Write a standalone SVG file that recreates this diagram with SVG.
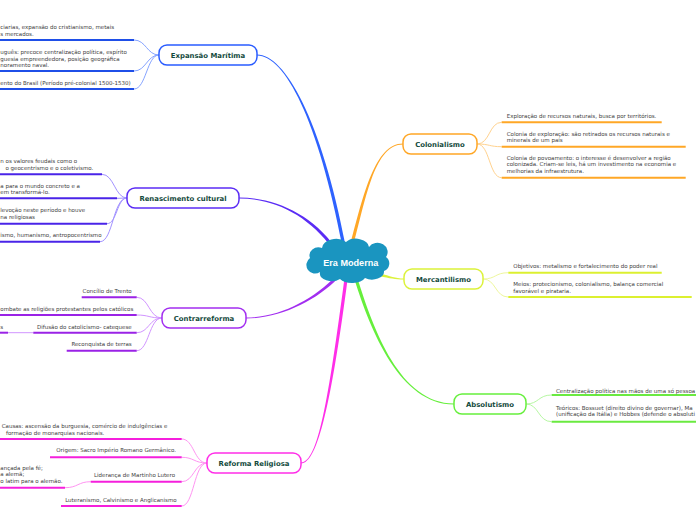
<svg xmlns="http://www.w3.org/2000/svg" width="696" height="520" viewBox="0 0 696 520">
<style>
.t{font-family:"DejaVu Sans",Verdana,sans-serif;font-size:5.5px;fill:#3d3d3d}
.e{text-anchor:end}
.lbl{font-family:"DejaVu Sans",Verdana,sans-serif;font-size:6.9px;font-weight:bold;fill:#134a3c;text-anchor:middle}
.node{fill:#fff;stroke-width:1.5}
.ul{fill:none;stroke-width:2}
.br{fill:none;stroke-width:1}
</style>
<rect width="696" height="520" fill="#fff"/>
<g id="connectors">
<path d="M345.6,245.7 C321.6,119.7 285,54.5 257,54.5 L257,55.5 C285,55.5 318.4,120.3 342.4,246.3 Z" fill="#2e62ff"/>
<path d="M335.3,247.1 C311.3,214.1 275,197.5 239,197.5 L239,198.5 C275,198.5 308.7,215.9 332.7,248.9 Z" fill="#5a2cf5"/>
<path d="M335.85,275.9 C313.85,298.9 280,317.5 246,317.5 L246,318.5 C280,318.5 316.15,301.1 338.15,278.1 Z" fill="#a22ef0"/>
<path d="M344.4,278.8 C328.4,399.8 318,462.5 301,462.5 L301,463.5 C318,463.5 331.6,400.2 347.6,279.2 Z" fill="#ff2ee8"/>
<path d="M353.55,244.41 C366.55,195.41 375,144.5 403,144.5 L403,143.5 C375,143.5 363.45,194.59 350.45,243.59 Z" fill="#ffa726"/>
<path d="M379.75,276.27 C389.75,278.27 395,279.5 404,279.5 L404,278.5 C395,278.5 390.25,275.73 380.25,273.73 Z" fill="#dcf23a"/>
<path d="M354.48,279.48 C370.48,330.48 400,404.5 454,404.5 L454,403.5 C400,403.5 373.52,329.52 357.52,278.52 Z" fill="#66ef3c"/>
<g stroke="#86a4ff" class="br">
<path d="M159,55 C147,55 146,40 134,40"/><path d="M159,55 C147,55 146,71 134,71"/><path d="M159,55 C147,55 146,89 134,89"/>
</g>
<g stroke="#1f4fe8" class="ul">
<path d="M0,40 H134"/><path d="M0,71 H134"/><path d="M0,89 H134"/>
</g>
<g stroke="#a292ff" class="br">
<path d="M127,198 C115,198 114,174.3 102,174.3"/><path d="M127,198 C122,198 122,198.3 117,198.3"/><path d="M127,198 C117,198 117,223.7 107,223.7"/><path d="M127,198 C113,198 113,241.7 100,241.7"/>
</g>
<g stroke="#4a24e8" class="ul">
<path d="M0,174.3 H102"/><path d="M0,198.3 H117"/><path d="M0,223.7 H107"/><path d="M0,241.7 H100"/>
</g>
<g stroke="#d194ff" class="br">
<path d="M162,318 C149,318 149,297.3 136.7,297.3"/><path d="M162,318 C149,318 149,315 136.7,315"/><path d="M162,318 C149,318 149,332.7 136.7,332.7"/><path d="M162,318 C149,318 149,350.7 136.7,350.7"/><path d="M33.3,332.7 H8"/>
</g>
<g stroke="#9a22e6" class="ul">
<path d="M81.7,297.3 H136.7"/><path d="M0,315 H136.7"/><path d="M33.3,332.7 H136.7"/><path d="M66.7,350.7 H136.7"/><path d="M0,332.7 H8"/>
</g>
<g stroke="#ff94f2" class="br">
<path d="M207,463 C194,463 194,439 181.7,439"/><path d="M207,463 C194,463 194,457.3 181.7,457.3"/><path d="M207,463 C194,463 194,481.7 181.7,481.7"/><path d="M207,463 C194,463 194,506 181.7,506"/><path d="M90.7,481.7 C78,481.7 78,487.7 65,487.7"/>
</g>
<g stroke="#f51fdc" class="ul">
<path d="M0,439 H181.7"/><path d="M50,457.3 H181.7"/><path d="M90.7,481.7 H181.7"/><path d="M61,506 H181.7"/><path d="M0,487.7 H65"/>
</g>
<g stroke="#ffd28e" class="br">
<path d="M477,144 C490,144 489,122.3 501.7,122.3"/><path d="M477,144 C490,144 489,146.7 501.7,146.7"/><path d="M477,144 C490,144 489,177.7 501.7,177.7"/>
</g>
<g stroke="#ffa726" class="ul">
<path d="M501.7,122.3 H661.7"/><path d="M501.7,146.7 H685.7"/><path d="M501.7,177.7 H685.7"/>
</g>
<g stroke="#eef79c" class="br">
<path d="M483,279 C496,279 495,272.7 508.3,272.7"/><path d="M483,279 C496,279 495,297 508.3,297"/>
</g>
<g stroke="#dcf030" class="ul">
<path d="M508.3,272.7 H661.7"/><path d="M508.3,297 H691.7"/>
</g>
<g stroke="#b6f7a2" class="br">
<path d="M526,404 C539,404 538,395 551.7,395"/><path d="M526,404 C539,404 538,421.7 551.7,421.7"/>
</g>
<g stroke="#6aea40" class="ul">
<path d="M551.7,395 H700"/><path d="M551.7,421.7 H700"/>
</g>
</g>
<g id="era-moderna">
<path d="M310,258 A9,8 0 0 1 322,248 A14,10 0 0 1 346,242 A13,9 0 0 1 369,247 A10,9 0 0 1 386,257 A8,8 0 0 1 384,271 A12,8 0 0 1 365,278 A14,8 0 0 1 340,279 A12,8 0 0 1 320,272 A8,8 0 0 1 310,258 Z" fill="#1a95c0"/>
<text x="350.8" y="265.6" font-family="'Liberation Sans',Arial,sans-serif" font-size="9.1" font-weight="bold" fill="#fff" text-anchor="middle">Era Moderna</text>
</g>
<g id="expansao-maritima">
<rect class="node" x="159" y="45" width="98" height="20" rx="8" stroke="#2a5cff"/>
<text class="lbl" x="208" y="57.6">Expansão Marítima</text>
<text class="t" x="0.3" y="28.8">ciarias, expansão do cristianismo, metais</text>
<text class="t" x="0.3" y="35.6">s mercados.</text>
<text class="t" x="0.3" y="54.2">uguês: precoce centralização política, espírito</text>
<text class="t" x="0.3" y="60.6">guesia empreendedora, posição geográfica</text>
<text class="t" x="0.3" y="67">noramento naval.</text>
<text class="t" x="0.3" y="84.6">ento do Brasil (Período pré-colonial 1500-1530)</text>
</g>
<g id="renascimento-cultural">
<rect class="node" x="127" y="188" width="112" height="20" rx="8" stroke="#5b2cf5"/>
<text class="lbl" x="183" y="200.6">Renascimento cultural</text>
<text class="t" x="0.3" y="162.6">n os valores feudais como o</text>
<text class="t" x="5.5" y="170.1">o geocentrismo e o coletivismo.</text>
<text class="t" x="0.3" y="187.9">a para o mundo concreto e a</text>
<text class="t" x="0.3" y="194">em transformá-lo.</text>
<text class="t" x="0.3" y="212">levoção neste período e houve</text>
<text class="t" x="0.3" y="218.6">na religiosas</text>
<text class="t" x="0.3" y="237">ismo, humanismo, antropocentrismo</text>
</g>
<g id="contrarreforma">
<rect class="node" x="162" y="308" width="84" height="20" rx="8" stroke="#a22ef0"/>
<text class="lbl" x="204" y="320.6">Contrarreforma</text>
<text class="t e" x="131.7" y="292.9">Concílio de Trento</text>
<text class="t" x="0.3" y="311.2">ombate as religiões protestantes pelos católicos</text>
<text class="t e" x="131.7" y="328.6">Difusão do catolicismo- catequese</text>
<text class="t" x="0.3" y="328.6">s</text>
<text class="t e" x="131.7" y="346.3">Reconquista de terras</text>
</g>
<g id="reforma-religiosa">
<rect class="node" x="207" y="453" width="94" height="20" rx="8" stroke="#ff2ee8"/>
<text class="lbl" x="254" y="465.6">Reforma Religiosa</text>
<text class="t" x="1.7" y="428">Causas: ascensão da burguesia, comércio de indulgências e</text>
<text class="t" x="6" y="434.6">formação de monarquias nacionais.</text>
<text class="t e" x="176" y="452.3">Origem: Sacro Império Romano Germânico.</text>
<text class="t e" x="175" y="477.3">Liderança de Martinho Lutero</text>
<text class="t" x="0.3" y="470">ançada pela fé;</text>
<text class="t" x="0.3" y="476.4">a alemã;</text>
<text class="t" x="0.3" y="483.4">o latim para o alemão.</text>
<text class="t e" x="176.7" y="501.9">Luteranismo, Calvinismo e Anglicanismo</text>
</g>
<g id="colonialismo">
<rect class="node" x="403" y="134" width="74" height="20" rx="8" stroke="#ffa726"/>
<text class="lbl" x="440" y="146.6">Colonialismo</text>
<text class="t" x="506.7" y="117.7">Exploração de recursos naturais, busca por territórios.</text>
<text class="t" x="506.7" y="135.8">Colonia de exploração: são retirados os recursos naturais e</text>
<text class="t" x="506.7" y="142">minerais de um país</text>
<text class="t" x="506.7" y="159.5">Colonia de povoamento:  o interesse é desenvolver a região</text>
<text class="t" x="506.7" y="166.3">colonizada. Criam-se leis, há um investimento na economia e</text>
<text class="t" x="506.7" y="172.6">melhorias da infraestrutura.</text>
</g>
<g id="mercantilismo">
<rect class="node" x="404" y="269" width="79" height="20" rx="8" stroke="#dcf23a"/>
<text class="lbl" x="443.5" y="281.6">Mercantilismo</text>
<text class="t" x="513.3" y="268">Objetivos: metalismo e fortalecimento do poder real</text>
<text class="t" x="513.3" y="286">Meios: protecionismo, colonialismo, balança comercial</text>
<text class="t" x="513.3" y="292.8">favorável e pirataria.</text>
</g>
<g id="absolutismo">
<rect class="node" x="454" y="394" width="72" height="20" rx="8" stroke="#66ef3c"/>
<text class="lbl" x="490" y="406.6">Absolutismo</text>
<text class="t" x="556" y="392.6">Centralização política nas mãos de uma só pessoa</text>
<text class="t" x="556" y="409.5">Teóricos: Bossuet (direito divino de governar), Ma</text>
<text class="t" x="556" y="415.9">(unificação da Itália) e Hobbes (defende o absoluti</text>
</g>
</svg>
